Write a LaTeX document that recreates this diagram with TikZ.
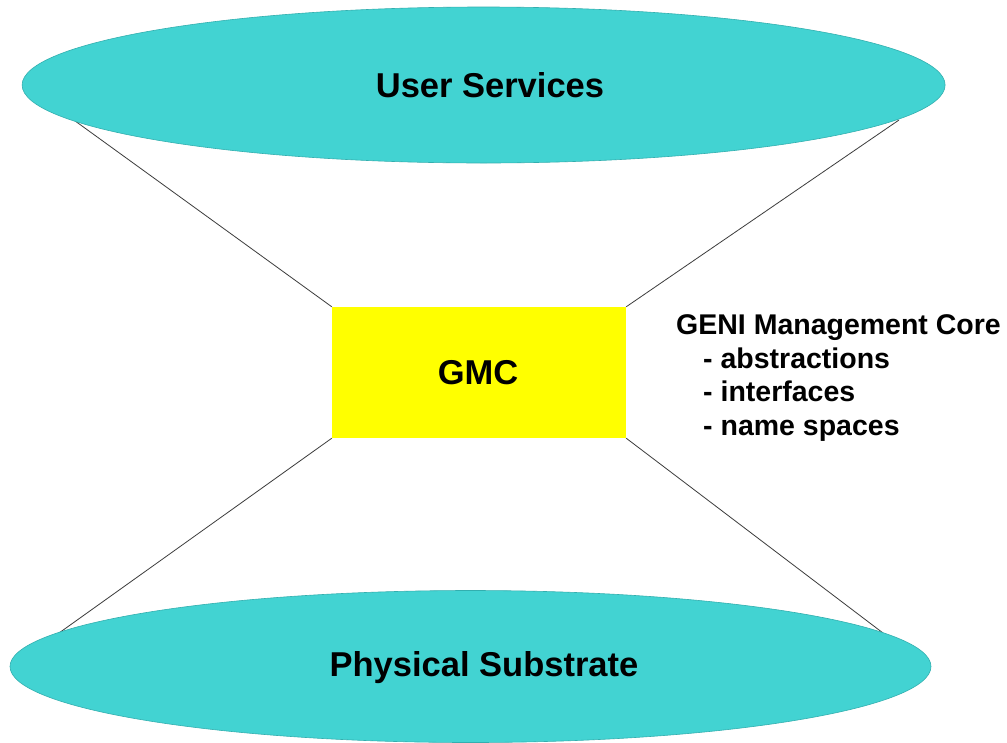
\documentclass[tikz,border=0pt]{standalone}
\usepackage{fontspec}
\setmainfont{Liberation Sans}
\usetikzlibrary{shapes.geometric}
\definecolor{teal1}{RGB}{66,211,210}
\definecolor{teal2}{RGB}{50,175,175}
\definecolor{ylw}{RGB}{255,255,0}
\definecolor{lne}{RGB}{60,60,60}
\tikzset{
  disc/.style={ellipse, fill=teal1, draw=teal2, line width=0.6pt, inner sep=0pt,
    font=\bfseries\fontsize{34.5}{41}\selectfont},
  core/.style={rectangle, fill=ylw, inner sep=0pt,
    font=\bfseries\fontsize{34.5}{41}\selectfont},
  label/.style={inner sep=0pt, font=\bfseries\fontsize{34.5}{41}\selectfont},
  note/.style={inner sep=0pt, align=left, anchor=north west,
    font=\bfseries\fontsize{28.5}{33.5}\selectfont},
  conn/.style={draw=lne, line width=0.8pt}
}
\begin{document}
\begin{tikzpicture}[x=1pt,y=-1pt]
\useasboundingbox (0,0) rectangle (1007,742);
\fill[white] (0,0) rectangle (1007,742);
\coordinate (tl) at (71,118);
\coordinate (tr) at (899,120);
\coordinate (bl) at (59,633);
\coordinate (br) at (883,633);
\node[core, minimum width=294pt, minimum height=131pt] (gmc) at (479,372.5) {};
\draw[conn] (tl) -- (gmc.north west);
\draw[conn] (tr) -- (gmc.north east);
\draw[conn] (bl) -- (gmc.south west);
\draw[conn] (br) -- (gmc.south east);
\node[disc, minimum width=923pt, minimum height=156pt] (us) at (483.6,85) {};
\node[disc, minimum width=921pt, minimum height=152pt] (ps) at (470.5,666.5) {};
\node[label] (ust) at (490,85) {User Services};
\node[label] (pst) at (484,667.5) {Physical Substrate};
\node[label] (gmct) at (478,372.5) {GMC};
\node[note] (gmcnote) at (676,314.5) {GENI Management Core\\\hspace*{27pt}- abstractions\\\hspace*{27pt}- interfaces\\\hspace*{27pt}- name spaces};
\end{tikzpicture}
\end{document}
